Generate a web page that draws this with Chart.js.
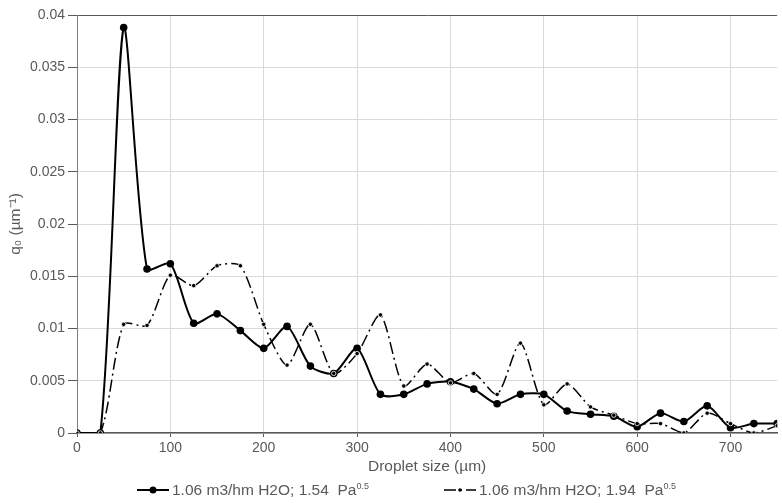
<!DOCTYPE html>
<html>
<head>
<meta charset="utf-8">
<script src="https://cdn.jsdelivr.net/npm/chart.js@4"></script>
<style>
  body { margin: 0; background: #fff; }
  #wrap { position: relative; width: 782px; height: 503px; }
  .item { position: absolute; top: 481px; height: 20px; line-height: 20px;
    font: 15.5px "Liberation Sans", Arial, sans-serif; color: #595959; white-space: nowrap; }
  .item svg { vertical-align: middle; margin-right: 3px; position: relative; top: -1px; }
  .item sup { font-size: 9px; vertical-align: 6px; line-height: 0; }
</style>
</head>
<body>
<div id="wrap">
  <canvas id="chart" width="782" height="503"></canvas>
  <span class="item" style="left:137px"><svg width="32" height="10"><line x1="0" y1="5" x2="32" y2="5" stroke="#000" stroke-width="2"/><circle cx="16" cy="5" r="3.5" fill="#000"/></svg>1.06 m3/hm H2O; 1.54&nbsp;&nbsp;Pa<sup>0.5</sup></span>
  <span class="item" style="left:444px"><svg width="32" height="10"><line x1="0" y1="5" x2="32" y2="5" stroke="#000" stroke-width="1.5" stroke-dasharray="12,4,2,4"/><circle cx="16" cy="5" r="1.8" fill="#000"/></svg>1.06 m3/hm H2O; 1.94&nbsp;&nbsp;Pa<sup>0.5</sup></span>
</div>
<script>
// droplet size classes (µm)
var sizes = [0, 25, 50, 75, 100, 125, 150, 175, 200, 225, 250, 275, 300, 325, 350, 375,
  400, 425, 450, 475, 500, 525, 550, 575, 600, 625, 650, 675, 700, 725, 750];

// q0 for 1.54 Pa^0.5
var q154 = [0, 0, 0.0388, 0.0157, 0.0162, 0.0105, 0.0114, 0.0098, 0.0081, 0.0102, 0.0064,
  0.0057, 0.0081, 0.0037, 0.0037, 0.0047, 0.0049, 0.0042, 0.0028, 0.0037, 0.0037,
  0.0021, 0.0018, 0.0016, 0.0006, 0.0019, 0.0011, 0.0026, 0.0005, 0.0009, 0.0009];

// q0 for 1.94 Pa^0.5
var q194 = [0, 0, 0.0104, 0.0103, 0.0151, 0.0141, 0.0160, 0.0160, 0.0104, 0.0065, 0.0104,
  0.0057, 0.0076, 0.0113, 0.0045, 0.0066, 0.0048, 0.0057, 0.0037, 0.0086, 0.0027,
  0.0047, 0.0025, 0.0017, 0.0009, 0.0009, 0, 0.0019, 0.0009, 0, 0.0007];

var xTicks = [0, 100, 200, 300, 400, 500, 600, 700];
var yTicks = [0, 0.005, 0.01, 0.015, 0.02, 0.025, 0.03, 0.035, 0.04];

function pts(ys) {
  return sizes.map(function (s, i) { return { x: s, y: ys[i] }; });
}

var tickFont = { family: "'Liberation Sans', Arial, sans-serif", size: 14 };
var titleFont = { family: "'Liberation Sans', Arial, sans-serif", size: 15.5 };

new Chart(document.getElementById("chart"), {
  type: "line",
  data: {
    datasets: [
      {
        label: "1.06 m3/hm H2O; 1.94 Pa0.5",
        data: pts(q194),
        borderColor: "#000",
        borderWidth: 1.5,
        borderDash: [12, 4, 2, 4],
        pointRadius: 2.2,
        pointBackgroundColor: "#000",
        pointBorderColor: "#fff",
        pointBorderWidth: 0.8,
        tension: 0.25,
        order: 0
      },
      {
        label: "1.06 m3/hm H2O; 1.54 Pa0.5",
        data: pts(q154),
        borderColor: "#000",
        borderWidth: 2,
        pointRadius: 3.8,
        pointBackgroundColor: "#000",
        pointBorderColor: "#000",
        pointBorderWidth: 0,
        tension: 0.25,
        order: 1
      }
    ]
  },
  options: {
    responsive: false,
    animation: false,
    layout: { padding: { top: 15, right: 0, bottom: 25, left: 0 } },
    plugins: {
      legend: { display: false },
      tooltip: { enabled: false }
    },
    scales: {
      x: {
        type: "linear",
        min: 0,
        max: 750,
        afterBuildTicks: function (scale) {
          scale.ticks = xTicks.map(function (v) { return { value: v }; });
        },
        afterFit: function (scale) { scale.height = 45; },
        ticks: { font: tickFont, color: "#595959", padding: 3, maxRotation: 0 },
        grid: { color: "#d9d9d9", lineWidth: 1, tickLength: 4, tickColor: "#595959" },
        border: { color: "#595959", width: 1.5 },
        title: {
          display: true,
          text: "Droplet size (µm)",
          font: titleFont,
          color: "#595959",
          padding: { top: 2, bottom: 2 }
        }
      },
      y: {
        min: 0,
        max: 0.04,
        afterBuildTicks: function (scale) {
          scale.ticks = yTicks.map(function (v) { return { value: v }; });
        },
        afterFit: function (scale) { scale.width = 77; },
        ticks: {
          font: tickFont,
          color: "#595959",
          padding: 3,
          callback: function (v) { return String(+v.toFixed(3)); }
        },
        grid: {
          color: function (c) { return c.tick && c.tick.value === 0.04 ? "#595959" : "#d9d9d9"; },
          lineWidth: 1,
          tickLength: 9,
          tickColor: "#595959"
        },
        border: { color: "#7f7f7f", width: 1 },
        title: {
          display: true,
          text: "q₀ (µm⁻¹)",
          font: titleFont,
          color: "#595959",
          padding: { top: 6, bottom: 0 }
        }
      }
    }
  }
});
</script>
</body>
</html>
